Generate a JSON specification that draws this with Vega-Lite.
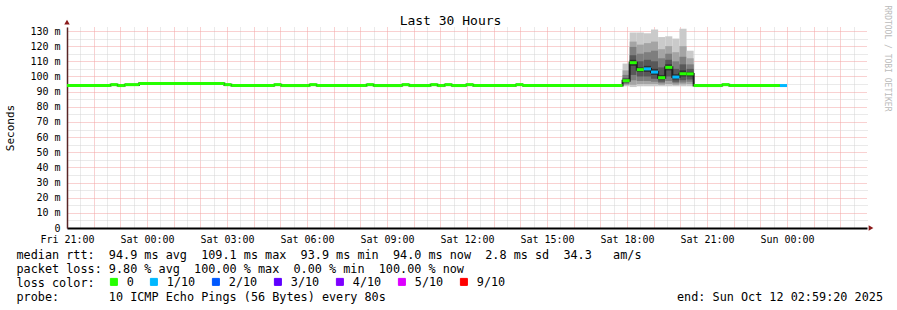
{
  "$schema": "https://vega.github.io/schema/vega-lite/v6.json",
  "autosize": {"type": "none"},
  "padding": {"left": 67, "top": 27, "right": 30, "bottom": 82},
  "width": 800,
  "height": 201,
  "background": "white",
  "config": {"font": "DejaVu Sans Mono", "view": {"stroke": null}},
  "datasets": {
    "smoke": [
      {"t0": "2025-10-11T17:50", "t1": "2025-10-11T18:06", "band": 1, "lo": 93.5, "hi": 108.5},
      {"t0": "2025-10-11T17:50", "t1": "2025-10-11T18:06", "band": 2, "lo": 94.3, "hi": 104},
      {"t0": "2025-10-11T17:50", "t1": "2025-10-11T18:06", "band": 3, "lo": 95, "hi": 101},
      {"t0": "2025-10-11T17:50", "t1": "2025-10-11T18:06", "band": 4, "lo": 95.8, "hi": 99},
      {"t0": "2025-10-11T17:50", "t1": "2025-10-11T18:06", "band": 5, "lo": 96.8, "hi": 97.6},
      {"t0": "2025-10-11T18:06", "t1": "2025-10-11T18:22", "band": 1, "lo": 93, "hi": 129},
      {"t0": "2025-10-11T18:06", "t1": "2025-10-11T18:22", "band": 2, "lo": 94.5, "hi": 123},
      {"t0": "2025-10-11T18:06", "t1": "2025-10-11T18:22", "band": 3, "lo": 97.5, "hi": 119.5},
      {"t0": "2025-10-11T18:06", "t1": "2025-10-11T18:22", "band": 4, "lo": 101, "hi": 114},
      {"t0": "2025-10-11T18:06", "t1": "2025-10-11T18:22", "band": 5, "lo": 107, "hi": 111},
      {"t0": "2025-10-11T18:22", "t1": "2025-10-11T18:38", "band": 1, "lo": 93.5, "hi": 129},
      {"t0": "2025-10-11T18:22", "t1": "2025-10-11T18:38", "band": 2, "lo": 95, "hi": 121},
      {"t0": "2025-10-11T18:22", "t1": "2025-10-11T18:38", "band": 3, "lo": 97, "hi": 115},
      {"t0": "2025-10-11T18:22", "t1": "2025-10-11T18:38", "band": 4, "lo": 100, "hi": 110},
      {"t0": "2025-10-11T18:22", "t1": "2025-10-11T18:38", "band": 5, "lo": 103, "hi": 106},
      {"t0": "2025-10-11T18:38", "t1": "2025-10-11T18:54", "band": 1, "lo": 93.5, "hi": 128.5},
      {"t0": "2025-10-11T18:38", "t1": "2025-10-11T18:54", "band": 2, "lo": 95, "hi": 122},
      {"t0": "2025-10-11T18:38", "t1": "2025-10-11T18:54", "band": 3, "lo": 97, "hi": 116},
      {"t0": "2025-10-11T18:38", "t1": "2025-10-11T18:54", "band": 4, "lo": 100, "hi": 111},
      {"t0": "2025-10-11T18:38", "t1": "2025-10-11T18:54", "band": 5, "lo": 103, "hi": 107},
      {"t0": "2025-10-11T18:54", "t1": "2025-10-11T19:10", "band": 1, "lo": 93.5, "hi": 131},
      {"t0": "2025-10-11T18:54", "t1": "2025-10-11T19:10", "band": 2, "lo": 95, "hi": 123},
      {"t0": "2025-10-11T18:54", "t1": "2025-10-11T19:10", "band": 3, "lo": 96.5, "hi": 117},
      {"t0": "2025-10-11T18:54", "t1": "2025-10-11T19:10", "band": 4, "lo": 98.5, "hi": 110},
      {"t0": "2025-10-11T18:54", "t1": "2025-10-11T19:10", "band": 5, "lo": 101, "hi": 105},
      {"t0": "2025-10-11T19:10", "t1": "2025-10-11T19:26", "band": 1, "lo": 93.5, "hi": 126},
      {"t0": "2025-10-11T19:10", "t1": "2025-10-11T19:26", "band": 2, "lo": 94.5, "hi": 118},
      {"t0": "2025-10-11T19:10", "t1": "2025-10-11T19:26", "band": 3, "lo": 95.5, "hi": 112},
      {"t0": "2025-10-11T19:10", "t1": "2025-10-11T19:26", "band": 4, "lo": 96.5, "hi": 106},
      {"t0": "2025-10-11T19:10", "t1": "2025-10-11T19:26", "band": 5, "lo": 98, "hi": 101},
      {"t0": "2025-10-11T19:26", "t1": "2025-10-11T19:42", "band": 1, "lo": 93.5, "hi": 126.5},
      {"t0": "2025-10-11T19:26", "t1": "2025-10-11T19:42", "band": 2, "lo": 95, "hi": 120},
      {"t0": "2025-10-11T19:26", "t1": "2025-10-11T19:42", "band": 3, "lo": 97, "hi": 115},
      {"t0": "2025-10-11T19:26", "t1": "2025-10-11T19:42", "band": 4, "lo": 100, "hi": 111},
      {"t0": "2025-10-11T19:26", "t1": "2025-10-11T19:42", "band": 5, "lo": 104, "hi": 108},
      {"t0": "2025-10-11T19:42", "t1": "2025-10-11T19:58", "band": 1, "lo": 93.5, "hi": 125},
      {"t0": "2025-10-11T19:42", "t1": "2025-10-11T19:58", "band": 2, "lo": 94.5, "hi": 116},
      {"t0": "2025-10-11T19:42", "t1": "2025-10-11T19:58", "band": 3, "lo": 95.5, "hi": 110},
      {"t0": "2025-10-11T19:42", "t1": "2025-10-11T19:58", "band": 4, "lo": 96.5, "hi": 105},
      {"t0": "2025-10-11T19:42", "t1": "2025-10-11T19:58", "band": 5, "lo": 98, "hi": 101.5},
      {"t0": "2025-10-11T19:58", "t1": "2025-10-11T20:14", "band": 1, "lo": 93.5, "hi": 131.5},
      {"t0": "2025-10-11T19:58", "t1": "2025-10-11T20:14", "band": 2, "lo": 94.8, "hi": 120},
      {"t0": "2025-10-11T19:58", "t1": "2025-10-11T20:14", "band": 3, "lo": 96, "hi": 113},
      {"t0": "2025-10-11T19:58", "t1": "2025-10-11T20:14", "band": 4, "lo": 97.5, "hi": 108},
      {"t0": "2025-10-11T19:58", "t1": "2025-10-11T20:14", "band": 5, "lo": 100, "hi": 104},
      {"t0": "2025-10-11T20:14", "t1": "2025-10-11T20:30", "band": 1, "lo": 93.5, "hi": 117},
      {"t0": "2025-10-11T20:14", "t1": "2025-10-11T20:30", "band": 2, "lo": 95, "hi": 112},
      {"t0": "2025-10-11T20:14", "t1": "2025-10-11T20:30", "band": 3, "lo": 96.5, "hi": 108},
      {"t0": "2025-10-11T20:14", "t1": "2025-10-11T20:30", "band": 4, "lo": 98, "hi": 105},
      {"t0": "2025-10-11T20:14", "t1": "2025-10-11T20:30", "band": 5, "lo": 100, "hi": 103}
    ],
    "median": [
      {"t0": "2025-10-10T21:00", "t1": "2025-10-10T22:38", "median": 94.0, "loss": "0"},
      {"t0": "2025-10-10T22:38", "t1": "2025-10-10T22:54", "median": 94.6, "loss": "0"},
      {"t0": "2025-10-10T22:54", "t1": "2025-10-10T23:10", "median": 94.0, "loss": "0"},
      {"t0": "2025-10-10T23:10", "t1": "2025-10-10T23:42", "median": 94.6, "loss": "0"},
      {"t0": "2025-10-10T23:42", "t1": "2025-10-11T02:54", "median": 95.3, "loss": "0"},
      {"t0": "2025-10-11T02:54", "t1": "2025-10-11T03:10", "median": 94.6, "loss": "0"},
      {"t0": "2025-10-11T03:10", "t1": "2025-10-11T04:46", "median": 94.0, "loss": "0"},
      {"t0": "2025-10-11T04:46", "t1": "2025-10-11T05:02", "median": 94.6, "loss": "0"},
      {"t0": "2025-10-11T05:02", "t1": "2025-10-11T06:06", "median": 94.0, "loss": "0"},
      {"t0": "2025-10-11T06:06", "t1": "2025-10-11T06:22", "median": 94.6, "loss": "0"},
      {"t0": "2025-10-11T06:22", "t1": "2025-10-11T08:14", "median": 94.0, "loss": "0"},
      {"t0": "2025-10-11T08:14", "t1": "2025-10-11T08:30", "median": 94.6, "loss": "0"},
      {"t0": "2025-10-11T08:30", "t1": "2025-10-11T09:34", "median": 94.0, "loss": "0"},
      {"t0": "2025-10-11T09:34", "t1": "2025-10-11T09:50", "median": 94.6, "loss": "0"},
      {"t0": "2025-10-11T09:50", "t1": "2025-10-11T10:38", "median": 94.0, "loss": "0"},
      {"t0": "2025-10-11T10:38", "t1": "2025-10-11T10:54", "median": 94.6, "loss": "0"},
      {"t0": "2025-10-11T10:54", "t1": "2025-10-11T11:10", "median": 94.0, "loss": "0"},
      {"t0": "2025-10-11T11:10", "t1": "2025-10-11T11:26", "median": 94.6, "loss": "0"},
      {"t0": "2025-10-11T11:26", "t1": "2025-10-11T11:58", "median": 94.0, "loss": "0"},
      {"t0": "2025-10-11T11:58", "t1": "2025-10-11T12:14", "median": 94.6, "loss": "0"},
      {"t0": "2025-10-11T12:14", "t1": "2025-10-11T13:50", "median": 94.0, "loss": "0"},
      {"t0": "2025-10-11T13:50", "t1": "2025-10-11T14:06", "median": 94.6, "loss": "0"},
      {"t0": "2025-10-11T14:06", "t1": "2025-10-11T17:50", "median": 94.0, "loss": "0"},
      {"t0": "2025-10-11T17:50", "t1": "2025-10-11T18:06", "median": 97.2, "loss": "0"},
      {"t0": "2025-10-11T18:06", "t1": "2025-10-11T18:22", "median": 109.1, "loss": "0"},
      {"t0": "2025-10-11T18:22", "t1": "2025-10-11T18:38", "median": 104.5, "loss": "0"},
      {"t0": "2025-10-11T18:38", "t1": "2025-10-11T18:54", "median": 105.0, "loss": "1/10"},
      {"t0": "2025-10-11T18:54", "t1": "2025-10-11T19:10", "median": 102.9, "loss": "1/10"},
      {"t0": "2025-10-11T19:10", "t1": "2025-10-11T19:26", "median": 99.2, "loss": "0"},
      {"t0": "2025-10-11T19:26", "t1": "2025-10-11T19:42", "median": 106.0, "loss": "0"},
      {"t0": "2025-10-11T19:42", "t1": "2025-10-11T19:58", "median": 99.6, "loss": "1/10"},
      {"t0": "2025-10-11T19:58", "t1": "2025-10-11T20:14", "median": 101.8, "loss": "0"},
      {"t0": "2025-10-11T20:14", "t1": "2025-10-11T20:30", "median": 101.7, "loss": "0"},
      {"t0": "2025-10-11T20:30", "t1": "2025-10-11T21:34", "median": 94.0, "loss": "0"},
      {"t0": "2025-10-11T21:34", "t1": "2025-10-11T21:50", "median": 94.6, "loss": "0"},
      {"t0": "2025-10-11T21:50", "t1": "2025-10-11T23:44", "median": 94.0, "loss": "0"},
      {"t0": "2025-10-11T23:44", "t1": "2025-10-12T00:00", "median": 94.0, "loss": "1/10"}
    ]
  },
  "resolve": {"axis": {"x": "independent", "y": "independent"}},
  "layer": [
    {
      "data": {"name": "smoke"},
      "mark": {"type": "rect"},
      "encoding": {
        "x": {
          "field": "t0", "type": "temporal",
          "scale": {"domain": [{"year": 2025, "month": 10, "date": 10, "hours": 21}, {"year": 2025, "month": 10, "date": 12, "hours": 3}], "nice": false},
          "axis": {
            "orient": "bottom",
            "values": [
              {"year": 2025, "month": 10, "date": 10, "hours": 21, "minutes": 0},
              {"year": 2025, "month": 10, "date": 10, "hours": 22, "minutes": 0},
              {"year": 2025, "month": 10, "date": 10, "hours": 23, "minutes": 0},
              {"year": 2025, "month": 10, "date": 11, "hours": 0, "minutes": 0},
              {"year": 2025, "month": 10, "date": 11, "hours": 1, "minutes": 0},
              {"year": 2025, "month": 10, "date": 11, "hours": 2, "minutes": 0},
              {"year": 2025, "month": 10, "date": 11, "hours": 3, "minutes": 0},
              {"year": 2025, "month": 10, "date": 11, "hours": 4, "minutes": 0},
              {"year": 2025, "month": 10, "date": 11, "hours": 5, "minutes": 0},
              {"year": 2025, "month": 10, "date": 11, "hours": 6, "minutes": 0},
              {"year": 2025, "month": 10, "date": 11, "hours": 7, "minutes": 0},
              {"year": 2025, "month": 10, "date": 11, "hours": 8, "minutes": 0},
              {"year": 2025, "month": 10, "date": 11, "hours": 9, "minutes": 0},
              {"year": 2025, "month": 10, "date": 11, "hours": 10, "minutes": 0},
              {"year": 2025, "month": 10, "date": 11, "hours": 11, "minutes": 0},
              {"year": 2025, "month": 10, "date": 11, "hours": 12, "minutes": 0},
              {"year": 2025, "month": 10, "date": 11, "hours": 13, "minutes": 0},
              {"year": 2025, "month": 10, "date": 11, "hours": 14, "minutes": 0},
              {"year": 2025, "month": 10, "date": 11, "hours": 15, "minutes": 0},
              {"year": 2025, "month": 10, "date": 11, "hours": 16, "minutes": 0},
              {"year": 2025, "month": 10, "date": 11, "hours": 17, "minutes": 0},
              {"year": 2025, "month": 10, "date": 11, "hours": 18, "minutes": 0},
              {"year": 2025, "month": 10, "date": 11, "hours": 19, "minutes": 0},
              {"year": 2025, "month": 10, "date": 11, "hours": 20, "minutes": 0},
              {"year": 2025, "month": 10, "date": 11, "hours": 21, "minutes": 0},
              {"year": 2025, "month": 10, "date": 11, "hours": 22, "minutes": 0},
              {"year": 2025, "month": 10, "date": 11, "hours": 23, "minutes": 0},
              {"year": 2025, "month": 10, "date": 12, "hours": 0, "minutes": 0},
              {"year": 2025, "month": 10, "date": 12, "hours": 1, "minutes": 0},
              {"year": 2025, "month": 10, "date": 12, "hours": 2, "minutes": 0}
            ],
            "grid": true,
            "gridColor": "#f2a2a2",
            "gridDash": [1, 1],
            "gridWidth": 1,
            "ticks": false,
            "domain": true,
            "domainColor": "#000000",
            "domainWidth": 2,
            "labelExpr": "hours(datum.value) % 3 == 0 ? timeFormat(datum.value, '%a %H:%M') : ''",
            "labelFont": "DejaVu Sans Mono",
            "labelFontSize": 10,
            "labelColor": "#000000",
            "labelBaseline": "alphabetic",
            "labelPadding": 14,
            "labelOverlap": false,
            "labelFlush": false,
            "labelBound": false,
            "title": [
              "median rtt:\u00a0\u00a094.9 ms avg\u00a0\u00a0109.1 ms max\u00a0\u00a093.9 ms min\u00a0\u00a094.0 ms now\u00a0\u00a02.8 ms sd\u00a0\u00a034.3\u00a0\u00a0\u00a0am/s",
              "packet loss: 9.80 % avg\u00a0\u00a0100.00 % max\u00a0\u00a00.00 % min\u00a0\u00a0100.00 % now",
              "loss color:",
              "probe:\u00a0\u00a0\u00a0\u00a0\u00a0\u00a0\u00a010 ICMP Echo Pings (56 Bytes) every 80s\u00a0\u00a0\u00a0\u00a0\u00a0\u00a0\u00a0\u00a0\u00a0\u00a0\u00a0\u00a0\u00a0\u00a0\u00a0\u00a0\u00a0\u00a0\u00a0\u00a0\u00a0\u00a0\u00a0\u00a0\u00a0\u00a0\u00a0\u00a0\u00a0\u00a0\u00a0\u00a0\u00a0\u00a0\u00a0\u00a0\u00a0\u00a0\u00a0\u00a0\u00a0end: Sun Oct 12 02:59:20 2025"
            ],
            "titleX": -51,
            "titleY": 30,
            "titleAlign": "left",
            "titleBaseline": "alphabetic",
            "titleFont": "DejaVu Sans Mono",
            "titleFontSize": 11.8,
            "titleFontWeight": "normal",
            "titleLineHeight": 14,
            "titleColor": "#000000"
          }
        },
        "x2": {"field": "t1"},
        "y": {
          "field": "lo", "type": "quantitative",
          "scale": {"domain": [0, 132.64], "nice": false},
          "axis": {
            "orient": "left",
            "values": [0, 10, 20, 30, 40, 50, 60, 70, 80, 90, 100, 110, 120, 130],
            "grid": true,
            "gridColor": "#f2a2a2",
            "gridDash": [1, 1],
            "gridWidth": 1,
            "ticks": false,
            "domain": true,
            "domainColor": "#5a2626",
            "domainWidth": 1.5,
            "labelExpr": "datum.value == 0 ? '0' : datum.value + ' m'",
            "labelFont": "DejaVu Sans Mono",
            "labelFontSize": 10,
            "labelColor": "#000000",
            "labelPadding": 7,
            "labelOverlap": false,
            "labelFlush": false,
            "labelBound": false,
            "title": "Seconds",
            "titleX": -56.5,
            "titleY": 100.5,
            "titleAngle": -90,
            "titleAlign": "center",
            "titleBaseline": "middle",
            "titleFont": "DejaVu Sans Mono",
            "titleFontSize": 11,
            "titleFontWeight": "normal",
            "titleColor": "#000000"
          }
        },
        "y2": {"field": "hi"},
        "color": {
          "field": "band", "type": "ordinal",
          "scale": {"domain": [1, 2, 3, 4, 5], "range": ["#cacaca", "#a4a4a4", "#7e7e7e", "#585858", "#323232"]},
          "legend": null
        }
      }
    },
    {
      "data": {"name": "median"},
      "mark": {"type": "point", "shape": "square", "filled": true, "size": 4, "opacity": 0},
      "encoding": {
        "x": {"field": "t0", "type": "temporal", "axis": null},
        "y": {"field": "median", "type": "quantitative", "axis": null},
        "fill": {
          "field": "loss", "type": "nominal",
          "scale": {"domain": ["0", "1/10", "2/10", "3/10", "4/10", "5/10", "9/10"], "range": ["#26ff00", "#00b8ff", "#0059ff", "#5e00ff", "#7e00ff", "#dd00ff", "#ff0000"]},
          "legend": {
            "orient": "none", "legendX": 41, "legendY": 249, "direction": "horizontal", "title": null,
            "gridAlign": "none",
            "symbolType": "square", "symbolSize": 49, "symbolStrokeWidth": 1, "symbolStrokeColor": "#000000", "symbolOpacity": 1,
            "labelFont": "DejaVu Sans Mono", "labelFontSize": 11.8, "labelColor": "#000000", "labelOffset": 7, "columnPadding": 14
          }
        }
      }
    },
    {
      "data": {"name": "median"},
      "mark": {"type": "line", "interpolate": "step-after", "color": "#202020", "strokeWidth": 2},
      "encoding": {
        "x": {"field": "t0", "type": "temporal", "axis": null},
        "y": {"field": "median", "type": "quantitative", "axis": null}
      }
    },
    {
      "data": {"name": "median"},
      "mark": {"type": "rule", "strokeWidth": 3},
      "encoding": {
        "x": {
          "field": "t0", "type": "temporal",
          "axis": {
            "orient": "top", "labels": false, "ticks": false, "domain": false,
            "values": [
              {"year": 2025, "month": 10, "date": 10, "hours": 21, "minutes": 30},
              {"year": 2025, "month": 10, "date": 10, "hours": 22, "minutes": 30},
              {"year": 2025, "month": 10, "date": 10, "hours": 23, "minutes": 30},
              {"year": 2025, "month": 10, "date": 11, "hours": 0, "minutes": 30},
              {"year": 2025, "month": 10, "date": 11, "hours": 1, "minutes": 30},
              {"year": 2025, "month": 10, "date": 11, "hours": 2, "minutes": 30},
              {"year": 2025, "month": 10, "date": 11, "hours": 3, "minutes": 30},
              {"year": 2025, "month": 10, "date": 11, "hours": 4, "minutes": 30},
              {"year": 2025, "month": 10, "date": 11, "hours": 5, "minutes": 30},
              {"year": 2025, "month": 10, "date": 11, "hours": 6, "minutes": 30},
              {"year": 2025, "month": 10, "date": 11, "hours": 7, "minutes": 30},
              {"year": 2025, "month": 10, "date": 11, "hours": 8, "minutes": 30},
              {"year": 2025, "month": 10, "date": 11, "hours": 9, "minutes": 30},
              {"year": 2025, "month": 10, "date": 11, "hours": 10, "minutes": 30},
              {"year": 2025, "month": 10, "date": 11, "hours": 11, "minutes": 30},
              {"year": 2025, "month": 10, "date": 11, "hours": 12, "minutes": 30},
              {"year": 2025, "month": 10, "date": 11, "hours": 13, "minutes": 30},
              {"year": 2025, "month": 10, "date": 11, "hours": 14, "minutes": 30},
              {"year": 2025, "month": 10, "date": 11, "hours": 15, "minutes": 30},
              {"year": 2025, "month": 10, "date": 11, "hours": 16, "minutes": 30},
              {"year": 2025, "month": 10, "date": 11, "hours": 17, "minutes": 30},
              {"year": 2025, "month": 10, "date": 11, "hours": 18, "minutes": 30},
              {"year": 2025, "month": 10, "date": 11, "hours": 19, "minutes": 30},
              {"year": 2025, "month": 10, "date": 11, "hours": 20, "minutes": 30},
              {"year": 2025, "month": 10, "date": 11, "hours": 21, "minutes": 30},
              {"year": 2025, "month": 10, "date": 11, "hours": 22, "minutes": 30},
              {"year": 2025, "month": 10, "date": 11, "hours": 23, "minutes": 30},
              {"year": 2025, "month": 10, "date": 12, "hours": 0, "minutes": 30},
              {"year": 2025, "month": 10, "date": 12, "hours": 1, "minutes": 30},
              {"year": 2025, "month": 10, "date": 12, "hours": 2, "minutes": 30}
            ],
            "grid": true, "gridColor": "#d4d4d4", "gridDash": [1, 1], "gridWidth": 1,
            "title": "Last 30 Hours",
            "titleX": 383, "titleY": -3,
            "titleAlign": "center", "titleBaseline": "alphabetic",
            "titleFont": "DejaVu Sans Mono", "titleFontSize": 13, "titleFontWeight": "normal", "titleColor": "#000000"
          }
        },
        "x2": {"field": "t1"},
        "y": {
          "field": "median", "type": "quantitative",
          "axis": {
            "orient": "right", "labels": false, "ticks": false, "domain": false,
            "values": [5, 15, 25, 35, 45, 55, 65, 75, 85, 95, 105, 115, 125],
            "grid": true, "gridColor": "#d4d4d4", "gridDash": [1, 1], "gridWidth": 1,
            "title": "RRDTOOL / TOBI OETIKER",
            "titleX": 19, "titleY": -22, "titleAngle": 90,
            "titleAlign": "left", "titleBaseline": "middle",
            "titleFont": "DejaVu Sans Mono", "titleFontSize": 8, "titleFontWeight": "normal", "titleColor": "#bbbbbb"
          }
        },
        "stroke": {
          "field": "loss", "type": "nominal",
          "scale": {"domain": ["0", "1/10", "2/10", "3/10", "4/10", "5/10", "9/10"], "range": ["#26ff00", "#00b8ff", "#0059ff", "#5e00ff", "#7e00ff", "#dd00ff", "#ff0000"]},
          "legend": null
        }
      }
    },
    {
      "data": {"values": [{}]},
      "mark": {"type": "point", "shape": "triangle-up", "filled": true, "color": "#8b1a1a", "size": 30, "opacity": 1},
      "encoding": {
        "x": {"datum": {"year": 2025, "month": 10, "date": 10, "hours": 21}, "type": "temporal", "axis": null},
        "y": {"datum": 135.8, "type": "quantitative", "axis": null}
      }
    },
    {
      "data": {"values": [{}]},
      "mark": {"type": "point", "shape": "triangle-right", "filled": true, "color": "#8b1a1a", "size": 30, "opacity": 1},
      "encoding": {
        "x": {"datum": {"year": 2025, "month": 10, "date": 12, "hours": 3, "minutes": 9}, "type": "temporal", "axis": null},
        "y": {"datum": 0, "type": "quantitative", "axis": null}
      }
    }
  ]
}
